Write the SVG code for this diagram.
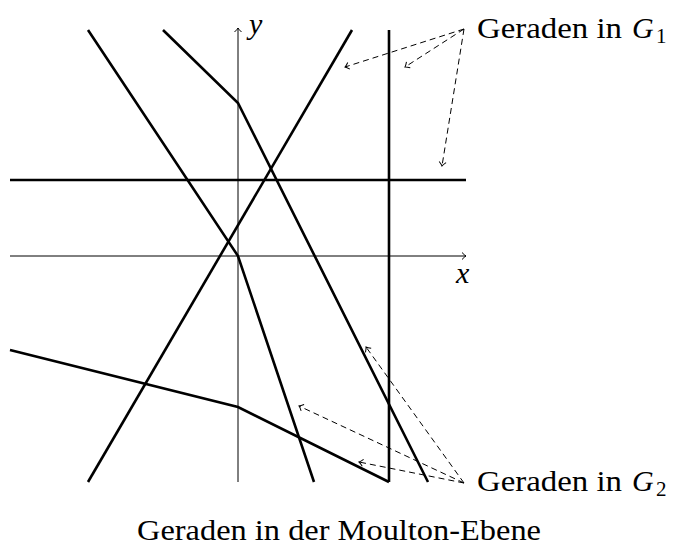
<svg xmlns="http://www.w3.org/2000/svg" width="676" height="547" viewBox="0 0 676 547">
<style>
.ax{stroke:#000;stroke-width:1;fill:none}
.ln{stroke:#000;stroke-width:2.6;fill:none;stroke-linejoin:miter}
.da{stroke:#000;stroke-width:1;fill:none;stroke-dasharray:6 4}
text{font-family:"Liberation Serif","DejaVu Serif",serif;fill:#000}
.lbl{font-size:30px}
.it{font-style:italic}
.sub{font-size:21px}
</style>
<defs>
<marker id="tip" viewBox="-6 -5 8 10" markerWidth="8" markerHeight="10" refX="0" refY="0" orient="auto" markerUnits="userSpaceOnUse">
<path d="M-4,-3.5 Q-1.5,-0.8 0,0 Q-1.5,0.8 -4,3.5" fill="none" stroke="#000" stroke-width="1"/>
</marker>
</defs>
<rect width="676" height="547" fill="#fff"/>
<g id="axes">
<line class="ax" x1="10" y1="256" x2="466" y2="256" marker-end="url(#tip)"/>
<line class="ax" x1="238" y1="482" x2="238" y2="28" marker-end="url(#tip)"/>
<text class="lbl it" x="456" y="283">x</text>
<text class="lbl it" x="249" y="34">y</text>
</g>
<g id="lines">
<line id="g1-horizontal" class="ln" x1="10" y1="180" x2="466" y2="180"/>
<line id="g1-vertical" class="ln" x1="389" y1="30" x2="389" y2="482"/>
<line id="g1-rising" class="ln" x1="88" y1="482" x2="352" y2="30"/>
<polyline id="g2-a" class="ln" points="88,30 238,256 314,482"/>
<polyline id="g2-b" class="ln" points="163,30 238,103 428,482"/>
<polyline id="g2-c" class="ln" points="10,350 238,407 389,482"/>
</g>
<g id="connectors">
<line class="da" x1="464" y1="29" x2="345" y2="67" marker-end="url(#tip)"/>
<line class="da" x1="464" y1="29" x2="405" y2="67" marker-end="url(#tip)"/>
<line class="da" x1="464" y1="29" x2="442" y2="166" marker-end="url(#tip)"/>
<line class="da" x1="464" y1="483" x2="366" y2="347" marker-end="url(#tip)"/>
<line class="da" x1="464" y1="483" x2="299" y2="406" marker-end="url(#tip)"/>
<line class="da" x1="464" y1="483" x2="359" y2="462" marker-end="url(#tip)"/>
</g>
<g id="label-G1">
<text class="lbl" x="477" y="38" textLength="145" lengthAdjust="spacingAndGlyphs">Geraden in</text>
<text class="lbl it" x="632" y="38">G</text>
<text class="sub" x="656" y="43">1</text>
</g>
<g id="label-G2">
<text class="lbl" x="477" y="491" textLength="145" lengthAdjust="spacingAndGlyphs">Geraden in</text>
<text class="lbl it" x="632" y="491">G</text>
<text class="sub" x="656" y="496">2</text>
</g>
<g id="caption">
<text class="lbl" x="137" y="540" textLength="404" lengthAdjust="spacingAndGlyphs">Geraden in der Moulton-Ebene</text>
</g>
</svg>
